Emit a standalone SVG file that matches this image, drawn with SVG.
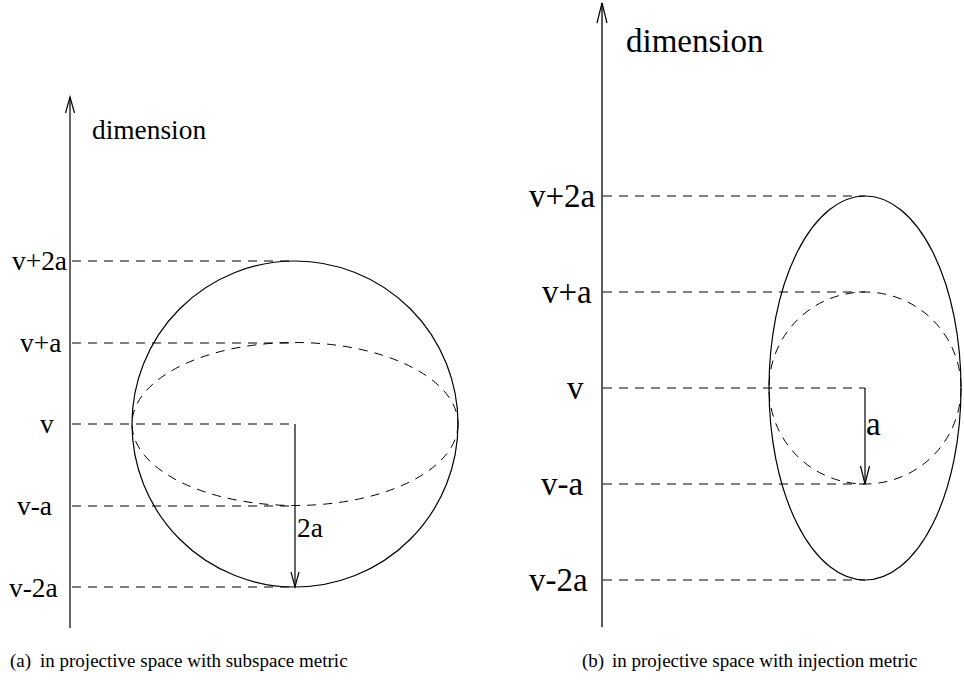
<svg xmlns="http://www.w3.org/2000/svg" width="964" height="696" viewBox="0 0 964 696">
<style>
.t{font-family:"Liberation Serif","Times New Roman",serif;fill:#000}
.l{font-size:27.4px}
.r{font-size:33px}
.c{font-size:19px}
.dash{stroke:#555;stroke-width:1.5;stroke-dasharray:9 7;fill:none}
.dcurve{stroke:#000;stroke-width:1;stroke-dasharray:9 7;fill:none}
.solid{stroke:#000;stroke-width:1.2;fill:none}
.axl{stroke:#666;stroke-width:2;fill:none}
.axr{stroke:#000;stroke-width:1.3;fill:none}
</style>
<rect width="964" height="696" fill="#fff"/>
<g id="panel-a">
  <g id="connectors-a">
    <line class="axl" x1="70" y1="97" x2="70" y2="628"/>
    <polyline class="solid" points="65.5,113 70,97 74.5,113"/>
    <line class="dash" x1="72" y1="261" x2="295" y2="261"/>
    <line class="dash" x1="72" y1="343" x2="295" y2="343"/>
    <line class="dash" x1="72" y1="424" x2="295" y2="424"/>
    <line class="dash" x1="72" y1="506" x2="295" y2="506"/>
    <line class="dash" x1="72" y1="587" x2="295" y2="587"/>
    <line class="solid" x1="295" y1="424" x2="295" y2="587"/>
    <polyline class="solid" points="291,572 295,587 299,572"/>
  </g>
  <g id="sphere-a">
    <circle class="solid" cx="295" cy="424" r="163"/>
    <ellipse class="dcurve" cx="295" cy="424" rx="163" ry="81.5"/>
  </g>
  <g id="labels-a">
    <text class="t l" x="92" y="139">dimension</text>
    <text class="t l" x="12" y="270">v+2a</text>
    <text class="t l" x="20" y="352">v+a</text>
    <text class="t l" x="40" y="433">v</text>
    <text class="t l" x="17" y="515">v-a</text>
    <text class="t l" x="9" y="597">v-2a</text>
    <text class="t l" x="297" y="537">2a</text>
    <text class="t c" x="10" y="667">(a)<tspan x="40">in projective space with subspace metric</tspan></text>
  </g>
</g>
<g id="panel-b">
  <g id="connectors-b">
    <line class="axr" x1="602" y1="3" x2="602" y2="627"/>
    <polyline class="solid" points="597,23 602,3 607,23"/>
    <line class="dash" x1="603" y1="196" x2="865" y2="196"/>
    <line class="dash" x1="603" y1="292" x2="865" y2="292"/>
    <line class="dash" x1="603" y1="388" x2="865" y2="388"/>
    <line class="dash" x1="603" y1="484" x2="865" y2="484"/>
    <line class="dash" x1="603" y1="580" x2="865" y2="580"/>
    <line class="solid" x1="865" y1="388" x2="865" y2="484"/>
    <polyline class="solid" points="860.5,466 865,484 869.5,466"/>
  </g>
  <g id="ellipsoid-b">
    <ellipse class="solid" cx="865" cy="388" rx="96" ry="192"/>
    <circle class="dcurve" cx="865" cy="388" r="96"/>
  </g>
  <g id="labels-b">
    <text class="t r" x="626" y="52">dimension</text>
    <text class="t r" x="529" y="207">v+2a</text>
    <text class="t r" x="542" y="303">v+a</text>
    <text class="t r" x="567" y="399">v</text>
    <text class="t r" x="541" y="495">v-a</text>
    <text class="t r" x="529" y="591">v-2a</text>
    <text class="t r" x="866" y="435">a</text>
    <text class="t c" x="582" y="667">(b)<tspan x="612">in projective space with injection metric</tspan></text>
  </g>
</g>
</svg>
